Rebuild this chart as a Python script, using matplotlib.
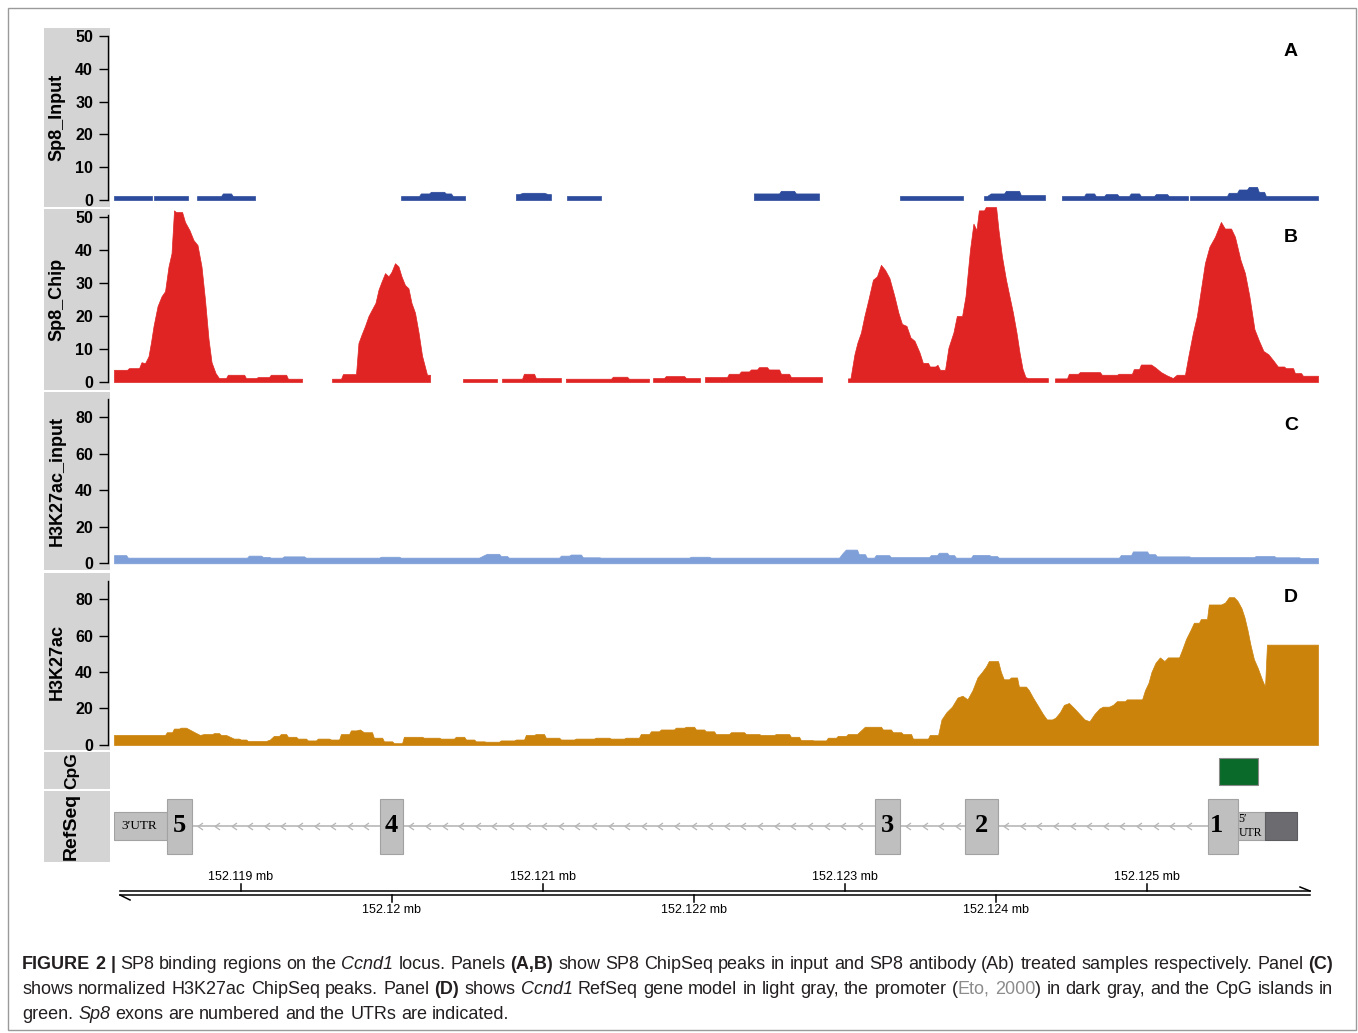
import numpy as np
import matplotlib
matplotlib.use("Agg")
import matplotlib.pyplot as plt
from matplotlib.patches import Rectangle
from matplotlib.path import Path

plt.rcParams["font.family"] = ["Liberation Sans", "DejaVu Sans"]

W, H = 1358, 1033
nan = float("nan")

# ---------------------------------------------------------------------------
# Data. Genomic positions are kb past 152,000 kb (119.0 == 152.119 mb).
# Each coverage track is a step function: value[i] spans edges[i]..edges[i+1];
# NaN marks stretches without reported coverage.
# ---------------------------------------------------------------------------
view_start, view_end = 118.160, 126.134

sp8_input_edges = [
    118.160, 118.412, 118.425, 118.650, 118.710, 118.875, 118.941, 119.094,
    120.061, 120.186, 120.253, 120.352, 120.398, 120.485, 120.822, 120.862,
    121.014, 121.054, 121.160, 121.385, 122.398, 122.571, 122.670, 122.829,
    123.365, 123.783, 123.922, 123.961, 124.061, 124.160, 124.326, 124.438,
    124.590, 124.657, 124.723, 124.809, 124.888, 124.955, 125.054, 125.140,
    125.273, 125.286, 125.537, 125.604, 125.670, 125.736, 125.783, 126.134]
sp8_input_values = [
    1.2, nan, 1.2, nan, 1.2, 2.0, 1.2, nan, 1.2, 2.0,
    2.5, 2.0, 1.2, nan, 1.8, 2.2, 1.8, nan, 1.2, nan,
    2.0, 2.8, 2.0, nan, 1.2, nan, 1.2, 2.0, 2.8, 1.5,
    nan, 1.2, 2.0, 1.2, 1.8, 1.2, 2.0, 1.2, 1.8, 1.2,
    nan, 1.2, 2.2, 3.2, 4.0, 2.5, 1.2]

sp8_chip_edges = [
    118.160, 118.253, 118.332, 118.352, 118.379, 118.398, 118.412, 118.432,
    118.465, 118.485, 118.511, 118.531, 118.551, 118.564, 118.617, 118.643,
    118.677, 118.696, 118.730, 118.749, 118.776, 118.796, 118.816, 118.849,
    118.908, 119.028, 119.107, 119.193, 119.306, 119.405,
    119.604, 119.670, 119.769, 119.789, 119.809, 119.836, 119.855, 119.882,
    119.902, 119.922, 119.942, 119.968, 119.988, 120.008, 120.034, 120.054,
    120.074, 120.100, 120.120, 120.140, 120.167, 120.187, 120.213, 120.253,
    120.471, 120.696,
    120.730, 120.869, 120.948, 121.120,
    121.153, 121.458, 121.564, 121.703,
    121.730, 121.809, 121.942, 122.041,
    122.074, 122.226, 122.306, 122.372, 122.425, 122.491, 122.571, 122.637,
    122.849,
    123.021, 123.054, 123.074, 123.094, 123.120, 123.140, 123.173, 123.200,
    123.226, 123.253, 123.279, 123.312, 123.345, 123.365, 123.392, 123.425,
    123.445, 123.478, 123.511, 123.557, 123.604, 123.624, 123.670, 123.703,
    123.736, 123.783, 123.816, 123.842, 123.862, 123.882, 123.928, 124.008,
    124.028, 124.054, 124.081, 124.100, 124.127, 124.147, 124.167, 124.187,
    124.206, 124.345,
    124.392, 124.478, 124.551, 124.696, 124.809, 124.908, 124.955, 125.034,
    125.074, 125.114, 125.153, 125.193, 125.259, 125.293, 125.319, 125.345,
    125.372, 125.398, 125.432, 125.471, 125.511, 125.564, 125.604, 125.637,
    125.663, 125.696, 125.730, 125.756, 125.789, 125.822, 125.862, 125.915,
    125.975, 126.028, 126.134]
sp8_chip_values = [
    3.7, 4.2, 6.0, 5.7, 7.8, 12, 17, 23, 26, 27.5, 35, 39, 52, 51.5, 48.5,
    46, 43, 41.5, 35, 25, 13, 6, 2.7, 1.2, 2.2, 1.2, 1.5, 2.2, 1.0, nan,
    1.0, 2.4, 11.8, 14.3, 17, 20, 22, 24, 28, 30.4, 33, 32, 33.4, 36, 35,
    32, 29.4, 28.4, 24, 21, 15, 8, 2.2, nan,
    1.0, nan,
    1.0, 2.5, 1.2, nan,
    1.0, 1.6, 1.0, nan,
    1.2, 1.8, 1.2, nan,
    1.5, 2.5, 3.2, 3.8, 4.5, 3.8, 2.5, 1.5, nan,
    1.1, 8.4, 12, 15, 20, 25, 31, 32, 35.5, 34, 31.5, 26, 21, 17.6, 17,
    13.5, 12.5, 9, 5.8, 4.7, 5.2, 3.7, 10.4, 15, 20, 26, 40, 48, 46, 52,
    53, 46, 38, 31, 26, 21, 15, 9, 4, 1.5, 1.2, nan,
    1.1, 2.5, 3.0, 2.2, 2.5, 3.9, 5.3, 4.5, 3.0, 2.0, 1.2, 2.2, 8, 15, 20,
    28, 36, 41, 44, 48.5, 46.5, 44, 37, 33, 26, 16, 12.5, 9.4, 8.4, 6.3,
    4.7, 4.2, 2.7, 1.9]

h3k27ac_input_edges = [
    118.160, 118.246, 119.047, 119.140, 119.193, 119.279, 119.425, 119.922,
    120.054, 120.584, 120.624, 120.716, 120.769, 121.114, 121.180, 121.259,
    121.379, 121.975, 122.107, 122.968, 123.001, 123.087, 123.140, 123.200,
    123.299, 123.564, 123.617, 123.683, 123.730, 123.842, 123.961, 124.014,
    124.822, 124.902, 125.008, 125.061, 125.286, 125.716, 125.849, 126.014,
    126.134]
h3k27ac_input_values = [
    4.5, 3.1, 4.2, 3.5, 3.1, 3.8, 3.1, 3.6, 3.1, 4.2,
    5.2, 4.0, 3.1, 4.2, 4.8, 3.3, 3.1, 3.6, 3.1, 5.5,
    7.5, 5.0, 3.1, 4.5, 3.4, 4.5, 5.8, 4.5, 3.1, 4.6,
    4.0, 3.1, 4.5, 6.5, 5.0, 3.8, 3.4, 4.0, 3.3, 2.9]

h3k27ac_edges = [
    118.160, 118.504, 118.551, 118.597, 118.643, 118.677, 118.710, 118.749,
    118.816, 118.862, 118.908, 118.948, 118.994, 119.041, 119.173, 119.213,
    119.259, 119.306, 119.372, 119.438, 119.504, 119.591, 119.657, 119.723,
    119.769, 119.809, 119.875, 119.942, 120.008, 120.074, 120.206, 120.319,
    120.418, 120.485, 120.551, 120.617, 120.716, 120.816, 120.882, 120.948,
    121.014, 121.114, 121.213, 121.345, 121.445, 121.544, 121.643, 121.710,
    121.776, 121.875, 121.942, 122.008, 122.074, 122.140, 122.240, 122.339,
    122.438, 122.538, 122.637, 122.703, 122.789, 122.882, 122.948, 123.014,
    123.087, 123.127, 123.246, 123.312, 123.379, 123.445, 123.557, 123.624,
    123.657, 123.690, 123.730, 123.763, 123.796, 123.829, 123.862, 123.895,
    123.922, 123.948, 124.021, 124.047, 124.094, 124.147, 124.206, 124.233,
    124.259, 124.292, 124.332, 124.379, 124.412, 124.438, 124.465, 124.504,
    124.538, 124.571, 124.604, 124.637, 124.670, 124.703, 124.756, 124.796,
    124.862, 124.975, 125.001, 125.021, 125.041, 125.074, 125.100, 125.134,
    125.220, 125.246, 125.273, 125.306, 125.352, 125.405, 125.498, 125.538,
    125.584, 125.617, 125.637, 125.657, 125.677, 125.696, 125.723, 125.749,
    125.776, 125.790, 126.134]
h3k27ac_values = [
    5.5, 7, 9, 9.5, 8.5, 7, 5.5, 6, 6.5, 5.5,
    4.5, 3.5, 3.0, 2.2, 3.0, 5, 6, 4.5, 3.5, 2.5,
    3.5, 3.0, 6, 8, 8.5, 7, 4, 2, 1, 4.5,
    4, 3.5, 4.5, 3, 2, 1.8, 2.5, 3, 5.5, 6,
    4, 3, 3.5, 4, 3.5, 4, 6, 7.5, 8.5, 9.5,
    10, 8.5, 7.5, 6, 7, 6, 5.5, 6, 4.5, 2.7,
    2.5, 4, 5, 6, 8, 10, 8.5, 7, 6, 3.5,
    5.5, 14, 18, 21, 26, 27, 25, 30, 37, 40,
    43, 46, 40, 36, 37, 32, 30, 26, 22, 17,
    14, 15, 18, 22, 23, 20, 17, 14, 13, 17,
    20, 21, 22, 24, 25, 30, 34, 40, 45, 48,
    46, 48, 52, 58, 63, 67, 69, 77, 78, 81,
    79, 75, 70, 63, 55, 47, 42, 36, 32, 55]

# Ccnd1 RefSeq model (minus strand), promoter and CpG island
utr3 = (118.160, 118.511)
exon_starts = [118.511, 119.922, 123.200, 123.796, 125.405]
exon_ends = [118.677, 120.074, 123.365, 124.014, 125.604]
exon_numbers = ["5", "4", "3", "2", "1"]
utr5 = (125.604, 125.783)
promoter = (125.783, 125.994)
cpg_island = (125.478, 125.736)

ruler_ticks = [119, 120, 121, 122, 123, 124, 125]

# ---------------------------------------------------------------------------
fig = plt.figure(figsize=(W / 100, H / 100), dpi=100)
fig.patch.set_facecolor("white")


def px_axes(x0, y0, x1, y1):
    return fig.add_axes([x0 / W, 1 - y1 / H, (x1 - x0) / W, (y1 - y0) / H])


def strip(y0, y1, label, xc, size):
    r = Rectangle((44 / W, 1 - y1 / H), 66 / W, (y1 - y0) / H,
                  transform=fig.transFigure, facecolor="#d4d4d4",
                  edgecolor="none", zorder=-5)
    fig.add_artist(r)
    fig.text(xc / W, 1 - (y0 + y1) / 2 / H, label, rotation=90,
             ha="center", va="center", fontsize=size, fontweight="bold")


def draw_signal(ax, edges, values, color, flat=0.045, inset=0.006):
    """Area plot of a coverage track: wide bins keep a flat top, narrow bins
    are joined at their centres so that peaks read as smooth profiles."""
    edges = np.asarray(edges, float)
    values = np.asarray(values, float)
    n = min(len(values), len(edges) - 1)
    i = 0
    while i < n:
        if np.isnan(values[i]):
            i += 1
            continue
        j = i
        while j + 1 < n and not np.isnan(values[j + 1]):
            j += 1
        xs, ys = [edges[i]], [values[i]]
        for k in range(i, j + 1):
            a, b, v = edges[k], edges[k + 1], values[k]
            if b - a > flat:
                xs += [a + inset, b - inset]
                ys += [v, v]
            else:
                xs.append((a + b) / 2)
                ys.append(v)
        xs.append(edges[j + 1])
        ys.append(values[j])
        ax.fill_between(xs, 0, ys, color=color, lw=0.5, edgecolor=color,
                        clip_on=False)
        i = j + 1


tracks = [
    dict(name="Sp8_Input", letter="A", y0=28, y1=207, ylim=(-2.13, 52.4),
         ticks=list(range(0, 51, 10)), spine=(0, 50),
         edges=sp8_input_edges, values=sp8_input_values, color="#2c4b9c",
         letter_y=51),
    dict(name="Sp8_Chip", letter="B", y0=209, y1=390, ylim=(-2.42, 52.42),
         ticks=list(range(0, 51, 10)), spine=(0, 50.5),
         edges=sp8_chip_edges, values=sp8_chip_values, color="#e02424",
         letter_y=238),
    dict(name="H3K27ac_input", letter="C", y0=392, y1=570, ylim=(-3.66, 93.67),
         ticks=list(range(0, 81, 20)), spine=(0, 90),
         edges=h3k27ac_input_edges, values=h3k27ac_input_values,
         color="#7f9fd8", letter_y=425),
    dict(name="H3K27ac", letter="D", y0=573, y1=752, ylim=(-3.84, 94.25),
         ticks=list(range(0, 81, 20)), spine=(0, 90),
         edges=h3k27ac_edges, values=h3k27ac_values, color="#cb830c",
         letter_y=598),
]

for tr in tracks:
    ax = px_axes(114, tr["y0"], 1318, tr["y1"])
    ax.patch.set_alpha(0)
    ax.set_xlim(view_start, view_end)
    ax.set_ylim(*tr["ylim"])
    for s in ("top", "right", "bottom"):
        ax.spines[s].set_visible(False)
    ax.spines["left"].set_position(("outward", 4.3))
    ax.spines["left"].set_bounds(*tr["spine"])
    ax.spines["left"].set_linewidth(1.0)
    ax.set_xticks([])
    ax.set_yticks(tr["ticks"])
    ax.set_yticklabels([str(t) for t in tr["ticks"]], fontweight="bold",
                       fontsize=11.5)
    ax.tick_params(axis="y", length=6.5, width=1.0, pad=4.3)
    draw_signal(ax, tr["edges"], tr["values"], tr["color"])
    y_strip_end = tr["y1"] if tr["letter"] != "D" else 750
    strip(tr["y0"], y_strip_end, tr["name"], 57, 13)
    fig.text(1291 / W, 1 - tr["letter_y"] / H, tr["letter"], ha="center",
             va="center", fontsize=14, fontweight="bold")

strip(752, 789, "CpG", 72, 12.5)
strip(791, 862, "RefSeq", 71, 14)

# ---- gene model ------------------------------------------------------------
gx = px_axes(114, 752, 1318, 862)
gx.set_xlim(view_start, view_end)
gx.set_ylim(0, 110)
gx.axis("off")

MID, EXON_H, UTR_H = 36, 55, 28
exon_fc, exon_ec = "#bfbfbf", "#a2a2a2"

# intron backbone with strand chevrons
gx.plot([exon_ends[0], exon_starts[-1]], [MID, MID], color="#bdbdbd",
        lw=1.3, zorder=1)
chev = Path([(0.5, 0.7), (-0.5, 0.0), (0.5, -0.7)],
            [Path.MOVETO, Path.LINETO, Path.LINETO])
for a, b in zip(exon_ends[:-1], exon_starts[1:]):
    xs = np.arange(a + 0.055, b - 0.04, 0.11)
    gx.plot(xs, np.full_like(xs, MID), ls="none", marker=chev, ms=5,
            mfc="none", mec="#b5b5b5", mew=0.9, zorder=2)

gx.add_patch(Rectangle((utr3[0], MID - UTR_H / 2), utr3[1] - utr3[0], UTR_H,
                       fc=exon_fc, ec=exon_ec, lw=0.8, zorder=3))
gx.add_patch(Rectangle((utr5[0], MID - UTR_H / 2), utr5[1] - utr5[0], UTR_H,
                       fc=exon_fc, ec=exon_ec, lw=0.8, zorder=3))
gx.add_patch(Rectangle((promoter[0], MID - UTR_H / 2), promoter[1] - promoter[0],
                       UTR_H, fc="#6b6b70", ec="#5c5c60", lw=0.8, zorder=3))
for s, e, num in zip(exon_starts, exon_ends, exon_numbers):
    gx.add_patch(Rectangle((s, MID - EXON_H / 2), e - s, EXON_H,
                           fc=exon_fc, ec=exon_ec, lw=0.8, zorder=4))
    if num == "1":
        gx.text(s + 0.015, MID, num, ha="left", va="center", fontsize=19,
                family="Liberation Serif", fontweight="bold", zorder=5)
    else:
        gx.text((s + e) / 2, MID, num, ha="center", va="center", fontsize=19,
                family="Liberation Serif", fontweight="bold", zorder=5)
gx.text((utr3[0] + utr3[1]) / 2 - 0.01, MID, "3\u2032UTR", ha="center",
        va="center", fontsize=9.5, family="Liberation Serif", zorder=5)
gx.text(utr5[0] + 0.005, MID, "5\u2032\nUTR", ha="left", va="center",
        fontsize=8.5, family="Liberation Serif", linespacing=1.15, zorder=5)

# CpG island
gx.add_patch(Rectangle((cpg_island[0], 77), cpg_island[1] - cpg_island[0], 27,
                       fc="#0a6a2a", ec="#8a8a8a", lw=0.8, zorder=3))

# ---- coordinate ruler ------------------------------------------------------
rx = px_axes(114, 862, 1318, 930)
rx.set_xlim(view_start, view_end)
rx.set_ylim(68, 0)
rx.axis("off")
r0, r1 = 118.200, 126.081
barb = 10 / 151
rx.plot([r0, r1], [29, 29], color="black", lw=1.1, clip_on=False)
rx.plot([r0, r1], [33, 33], color="black", lw=1.1, clip_on=False)
rx.plot([r1 - barb, r1], [25, 29], color="black", lw=1.1, clip_on=False)
rx.plot([r0, r0 + barb], [33, 38], color="black", lw=1.1, clip_on=False)
for t in ruler_ticks:
    lab = f"{(152000 + t) / 1000:g} mb"
    if t % 2:
        rx.plot([t, t], [22, 29], color="black", lw=1.1)
        rx.text(t, 15, lab, ha="center", va="center", fontsize=9)
    else:
        rx.plot([t, t], [33, 40], color="black", lw=1.1)
        rx.text(t, 48, lab, ha="center", va="center", fontsize=9)

# ---- figure frame ----------------------------------------------------------
fig.add_artist(Rectangle((8 / W, 1 - 1030 / H), (1356 - 8) / W, (1030 - 8) / H,
                         transform=fig.transFigure, fill=False,
                         ec="#9a9a9a", lw=1.0))

# ---- caption ---------------------------------------------------------------
N = {}
B = dict(fontweight="bold")
I = dict(fontstyle="italic")
G = dict(color="#8c8c8c")
cap_lines = [
    [("FIGURE 2 |", B), (" SP8 binding regions on the ", N), ("Ccnd1", I),
     (" locus. Panels ", N), ("(A,B)", B),
     (" show SP8 ChipSeq peaks in input and SP8 antibody (Ab) treated samples"
      " respectively. Panel ", N), ("(C)", B)],
    [("shows normalized H3K27ac ChipSeq peaks. Panel ", N), ("(D)", B),
     (" shows ", N), ("Ccnd1", I),
     (" RefSeq gene model in light gray, the promoter (", N), ("Eto, 2000", G),
     (") in dark gray, and the CpG islands in", N)],
    [("green. ", N), ("Sp8", I),
     (" exons are numbered and the UTRs are indicated.", N)],
]
cap_color = "#231f20"
renderer = fig.canvas.get_renderer()


def text_w(s, size, style):
    t = fig.text(0, 0, s, fontsize=size, **style)
    w = t.get_window_extent(renderer).width
    t.remove()
    return w


def frag_w(s, size, style):
    return text_w("|" + s + "|", size, style) - text_w("||", size, style)


def to_words(pieces):
    words = [[]]
    for txt, st in pieces:
        parts = txt.split(" ")
        for k, p in enumerate(parts):
            if k > 0:
                words.append([])
            if p:
                words[-1].append((p, st))
    return [w for w in words if w]


def line_metrics(pieces, size):
    words = to_words(pieces)
    widths = [sum(frag_w(p, size, st) for p, st in w) for w in words]
    return words, widths


x_left, x_right = 22, 1333
base = 12.0
words0, widths0 = line_metrics(cap_lines[0], base)
space0 = frag_w(" ", base, N)
natural = sum(widths0) + space0 * (len(widths0) - 1)
cap_size = base * (x_right - x_left) / natural
space = frag_w(" ", cap_size, N)

baselines = [969, 994, 1019]
for li, (pieces, yb) in enumerate(zip(cap_lines, baselines)):
    words, widths = line_metrics(pieces, cap_size)
    if li < 2:
        gap = (x_right - x_left - sum(widths)) / (len(words) - 1)
    else:
        gap = space
    x = x_left
    for w, ww in zip(words, widths):
        xx = x
        for p, st in w:
            kw = dict(color=cap_color)
            kw.update(st)
            fig.text(xx / W, 1 - yb / H, p, fontsize=cap_size, ha="left",
                     va="baseline", **kw)
            xx += frag_w(p, cap_size, st)
        x += ww + gap

fig.savefig("out.png", dpi=100, facecolor="white")
